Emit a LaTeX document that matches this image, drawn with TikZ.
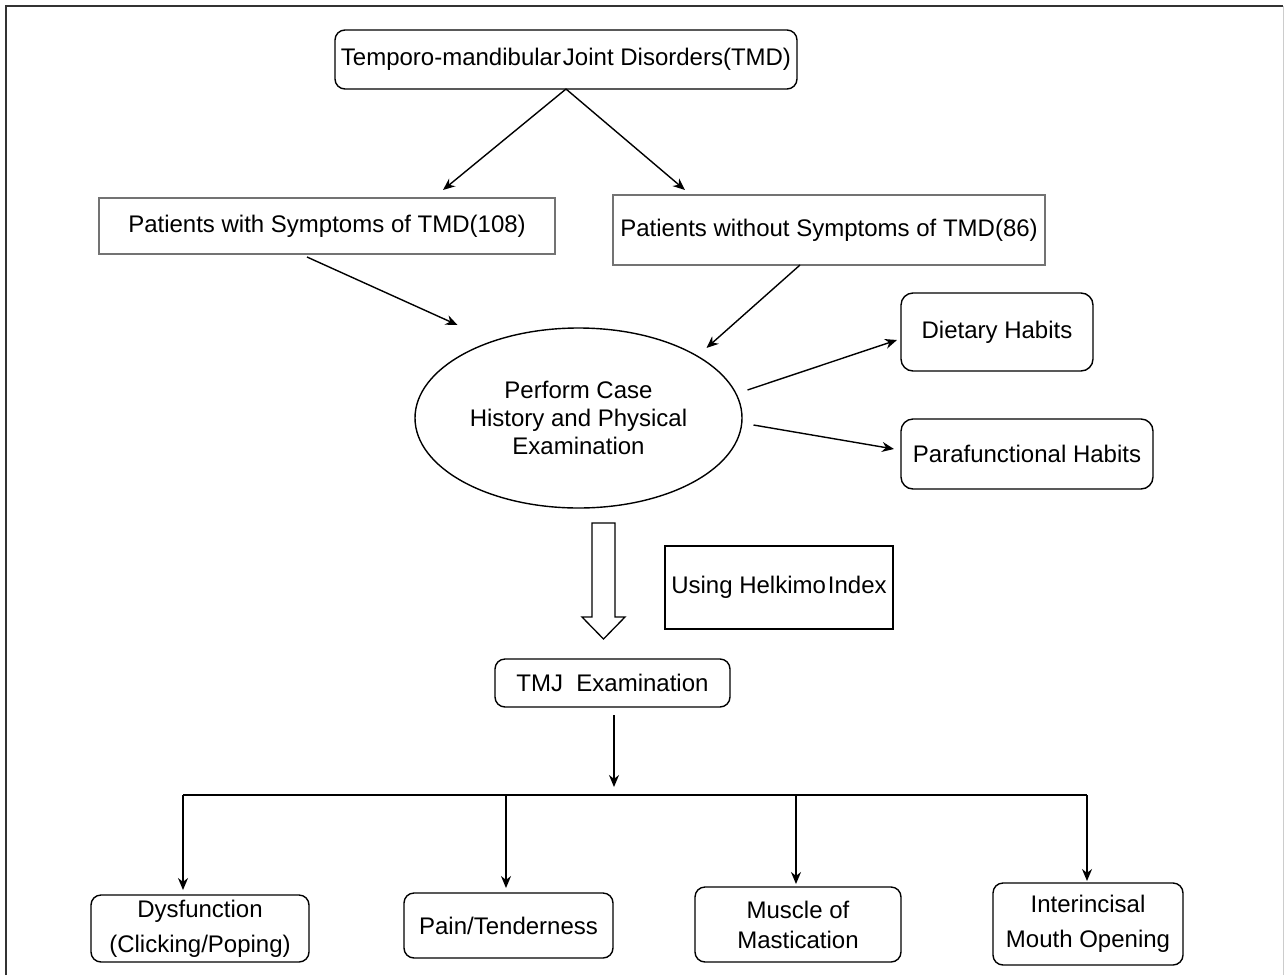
\documentclass[tikz,border=0pt]{standalone}
\usepackage{fontspec}
\setmainfont{Liberation Sans}
\usetikzlibrary{shapes.geometric,arrows.meta}
\begin{document}
\begin{tikzpicture}[x=1pt,y=-1pt,
  every node/.style={font=\fontsize{24}{28}\selectfont, inner sep=0pt, outer sep=0pt, align=center},
  rbox/.style={draw, line width=1.4pt, rounded corners=10pt},
  sbox/.style={draw=black!55, line width=1.3pt},
  hbox/.style={draw, line width=1.4pt},
  ellnode/.style={ellipse, draw, line width=1.4pt},
  arr/.style={line width=1.4pt, -{Stealth[length=12pt,width=10pt]}},
  plain/.style={line width=1.4pt},
  ]
\useasboundingbox (0,0) rectangle (1285,975);
\draw[line width=2pt, black!80] (6,975) -- (6,6) -- (1283,6);
\draw[line width=1pt, black!20] (1283,6) -- (1283,975);

% nodes
\node[rbox, minimum width=462pt, minimum height=59pt] (tmd) at (566,59.5) {Temporo-mandibular\hspace{2pt}Joint Disorders(TMD)};
\node[sbox, minimum width=456pt, minimum height=56pt] (with) at (327,226) {Patients with Symptoms of TMD(108)};
\node[sbox, minimum width=432pt, minimum height=70pt] (without) at (829,230) {Patients without Symptoms of TMD(86)};
\node[ellnode, minimum width=327pt, minimum height=180pt] (ell) at (578.5,418) {Perform Case\\History and Physical\\Examination};
\node[rbox, rounded corners=12pt, minimum width=192pt, minimum height=78pt] (diet) at (997,332) {Dietary Habits};
\node[rbox, rounded corners=12pt, minimum width=252pt, minimum height=70pt] (para) at (1027,454) {Parafunctional Habits};
\node[hbox, minimum width=228pt, minimum height=83pt] (helk) at (779,587.5) {Using Helkimo\hspace{2pt}Index};
\node[rbox, minimum width=235pt, minimum height=48pt] (tmj) at (612.5,683) {TMJ\ \ Examination};
\node[rbox, minimum width=218pt, minimum height=67pt] (dys) at (200,928.5) {Dysfunction\\[7pt](Clicking/Poping)};
\node[rbox, minimum width=209pt, minimum height=65pt] (pain) at (508.5,925.5) {Pain/Tenderness};
\node[rbox, minimum width=206pt, minimum height=75pt] (musc) at (798,924.5) {Muscle of\\[2pt]Mastication};
\node[rbox, minimum width=190pt, minimum height=82pt] (inter) at (1088,924) {Interincisal\\[7pt]Mouth Opening};

% block arrow
\draw[line width=1.3pt] (592,523) -- (615,523) -- (615,617) -- (625,617) -- (603.5,639) -- (582,617) -- (592,617) -- cycle;

% connectors
\draw[arr] (tmd.south) -- ([xshift=116pt,yshift=8pt]with.north);
\draw[arr] (tmd.south) -- ([xshift=-144pt,yshift=5pt]without.north);
\draw[arr] ([xshift=-20pt,yshift=-3pt]with.south) -- ([xshift=-121pt,yshift=93pt]ell.center);
\draw[arr] ([xshift=-29pt]without.south) -- ([xshift=128pt,yshift=70pt]ell.center);
\draw[arr] ([xshift=169pt,yshift=28pt]ell.center) -- ([xshift=-4pt,yshift=-8pt]diet.west);
\draw[arr] ([xshift=175pt,yshift=-7pt]ell.center) -- ([xshift=-7pt,yshift=5pt]para.west);

\coordinate (bus) at (614,795);
\coordinate (b1) at (183,795);
\coordinate (b2) at (506,795);
\coordinate (b3) at (796,795);
\coordinate (b4) at (1087,795);
\draw[arr] ([xshift=1.5pt,yshift=-8pt]tmj.south) -- ([yshift=8pt]bus);
\draw[plain] (b1) -- (b4);
\draw[arr, shorten >=5pt] (b1) -- (b1 |- dys.north);
\draw[arr, shorten >=5pt] (b2) -- (b2 |- pain.north);
\draw[arr, shorten >=3pt] (b3) -- (b3 |- musc.north);
\draw[arr, shorten >=2pt] (b4) -- (b4 |- inter.north);
\end{tikzpicture}
\end{document}
